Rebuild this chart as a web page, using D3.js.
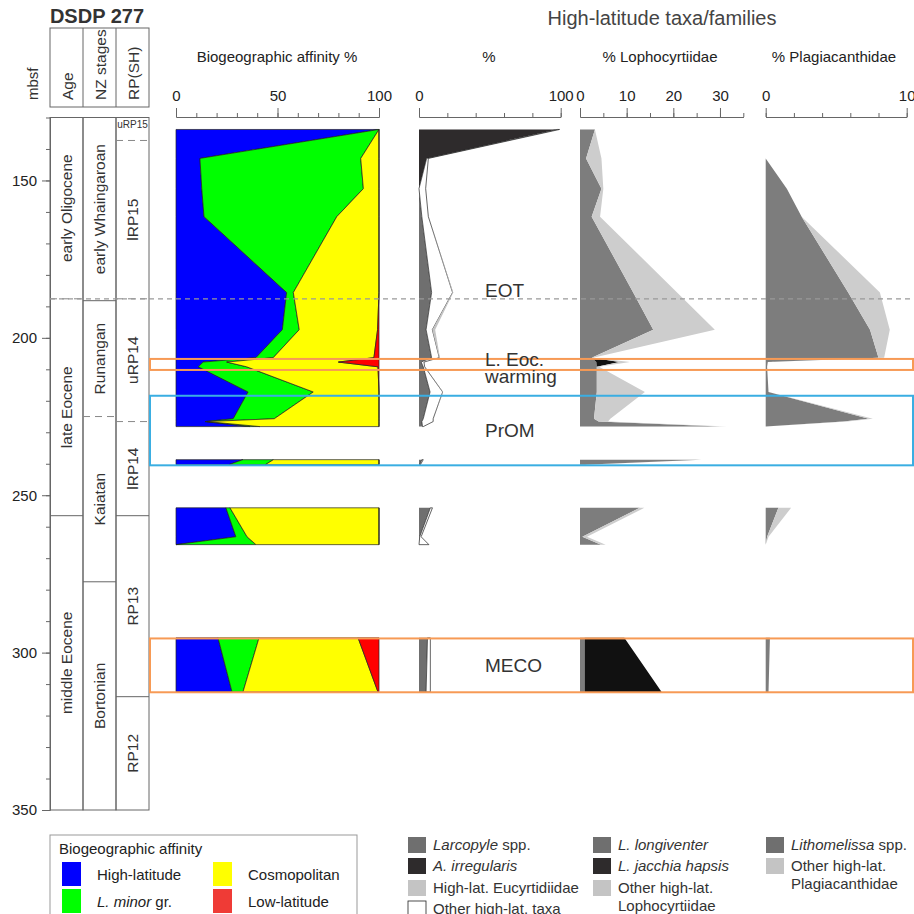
<!DOCTYPE html>
<html><head><meta charset="utf-8">
<script src="https://cdn.jsdelivr.net/npm/d3@7"></script>
<style>
body{margin:0;background:#fff}
svg{font-family:"Liberation Sans",Arial,sans-serif}
</style></head><body>
<svg id="chart" width="914" height="914"></svg>
<script>
// sample depths (mbsf); null marks a gap between cored intervals
const depths = [133.8, 143.0, 152.6, 161.5, 185.6, 197.4, 206.3, 207.7, 209.2, 217.2, 225.7, 226.6, 228.2,
  null, 238.7, 240.3, null, 254.0, 263.2, 265.7, null, 295.3, 312.5];

// biogeographic affinity %
const highLat = [100, 11.8, 12.7, 13.8, 54.5, 52.4, 39.4, 13.4, 11.0, 35.5, 28.2, 14.3, 36.5, null, 33, 26, null, 24.6, 29.5, 0, null, 20.7, 27.6];
const lMinor  = [0, 79.2, 79.6, 65.4, 3.3, 8.3, 8.5, 11.6, 23.8, 32.1, 20.2, 1.0, 4.9, null, 15, 18, null, 2.0, 5.5, 39.4, null, 20.2, 5.4];
const cosmo   = [0, 9.0, 7.7, 20.8, 42.2, 38.6, 49.6, 55.0, 64.7, 32.4, 51.6, 84.7, 58.6, null, 52, 56, null, 73.4, 65, 60.6, null, 48.8, 66.5];
const lowLat  = [0, 0, 0, 0, 0, 0.7, 2.5, 20.0, 0.5, 0, 0, 0, 0, null, 0, 0, null, 0, 0, 0, null, 10.3, 0.5];

// high-latitude taxa %
const larcopyle   = [0, 0, 0, 2, 8.9, 5, 8.9, 1, 3, 7.8, 3, 2, 2.5, null, 2, 0.5, null, 8, 0.5, 0, null, 6, 5];
const irregularis = [97.5, 5.4, 0, 0, 0, 0, 0, 0.5, 0, 0, 0, 0, 0, null, 0, 0, null, 0, 0, 0, null, 0, 0];
const otherTaxa   = [1.7, 1.2, 4.7, 4.6, 14.8, 4.4, 5.4, 2, 1, 8.9, 7, 8, 0.5, null, 1, 0.5, null, 1.5, 1, 7, null, 2, 3];
const eucyrt      = [0, 0, 0, 0, 0.5, 2, 0.5, 0, 0, 0.3, 0, 0, 0, null, 0, 0, null, 0, 0, 0, null, 0, 0];

// % Lophocyrtiidae
const longiventer = [3.2, 1.3, 4.6, 2.5, 11.4, 15.7, 2.5, 3.5, 3.6, 3.6, 3.0, 4.0, 30, null, 26, 1, null, 12.8, 0.5, 4.5, null, 1, 1];
const jacchia     = [0, 0, 0, 0, 0, 0, 0, 5.0, 0, 0, 0, 0, 0, null, 0, 0, null, 0, 0, 0, null, 8.5, 16.5];
const otherLopho  = [0, 3.3, 0.4, 1.8, 9.4, 13.2, 0.3, 2.2, 0.5, 10.3, 3.5, 2, 1.5, null, 0, 0.5, null, 1, 1, 1, null, 0, 0];

// % Plagiacanthidae
const lithomelissa = [0, 0, 1.5, 2.55, 5.85, 7.4, 8.0, 0.15, 0.1, 0.2, 7.3, 5.5, 0, null, 0, 0, null, 0.9, 0.1, 0, null, 0.3, 0.2];
const otherPlagia  = [0, 0, 0, 0, 2.25, 1.4, 0.4, 0, 0, 0, 0.3, 0.3, 0, null, 0, 0, null, 0.9, 0.1, 0, null, 0, 0];

// stratigraphic columns [label, top, bottom, lower boundary dashed?]
const ages = [["early Oligocene", 130, 187.6, true], ["late Eocene", 187.6, 256.5, false], ["middle Eocene", 256.5, 350, false]];
const nzStages = [["early Whaingaroan", 130, 188.2, false], ["Runangan", 188.2, 225.0, true], ["Kaiatan", 225.0, 277.5, false], ["Bortonian", 277.5, 350, false]];
const rpZones = [["uRP15", 130, 137.3, true], ["lRP15", 137.3, 187.6, true], ["uRP14", 187.6, 226.6, true], ["lRP14", 226.6, 256.5, false], ["RP13", 256.5, 314.0, false], ["RP12", 314.0, 350, false]];

// events
const eventNames = ["L. Eoc. warming", "PrOM", "MECO"];
const eventTop = [206.7, 218.4, 295.5];
const eventBottom = [210.2, 240.5, 312.6];
const eventColors = ["#f79a55", "#3aaee2", "#f79a55"];
const eotDepth = 187.6;

const svg = d3.select('#chart');
const y = d3.scaleLinear().domain([130, 350]).range([117.5, 810]);

// ---- title & depth axis
svg.append('text').attr('x', 97).attr('y', 23).attr('text-anchor', 'middle')
  .attr('font-size', 20).attr('font-weight', 'bold').attr('fill', '#333').text('DSDP 277');
svg.append('text').attr('transform', 'translate(38,100) rotate(-90)')
  .attr('font-size', 15).attr('fill', '#333').text('mbsf');

const yMinor = d3.axisLeft(y).tickValues(d3.range(130, 351, 10)).tickSize(4).tickFormat('').tickSizeOuter(0);
const yMajor = d3.axisLeft(y).tickValues(d3.range(150, 351, 50)).tickSize(8).tickPadding(5).tickSizeOuter(0);
svg.append('g').attr('transform', 'translate(50,0)').call(yMinor);
const yg = svg.append('g').attr('transform', 'translate(50,0)').call(yMajor);
svg.selectAll('.domain, .tick line').attr('stroke', '#666');
yg.selectAll('text').attr('font-size', 15).attr('fill', '#222').attr('font-family', 'Liberation Sans, Arial');

// ---- column headers
const colX = [50, 83, 116, 149];
const headers = ['Age', 'NZ stages', 'RP(SH)'];
svg.append('rect').attr('x', 50).attr('y', 28).attr('width', 99).attr('height', 79)
  .attr('fill', 'none').attr('stroke', '#666');
[83, 116].forEach(x => svg.append('line').attr('x1', x).attr('x2', x).attr('y1', 28).attr('y2', 107).attr('stroke', '#666'));
headers.forEach((h, i) => svg.append('text')
  .attr('transform', `translate(${(colX[i] + colX[i + 1]) / 2 + 6},100) rotate(-90)`)
  .attr('font-size', 15.5).attr('fill', '#333').text(h));

// ---- column bodies
function drawColumn(units, i) {
  const g = svg.append('g');
  const x0 = colX[i], x1 = colX[i + 1];
  g.append('rect').attr('x', x0).attr('y', y(130)).attr('width', x1 - x0).attr('height', y(350) - y(130))
    .attr('fill', 'none').attr('stroke', '#666');
  units.forEach(u => {
    if (u[2] < 350) {
      g.append('line').attr('x1', x0).attr('x2', x1).attr('y1', y(u[2])).attr('y2', y(u[2]))
        .attr('stroke', u[3] ? '#888' : '#666').attr('stroke-dasharray', u[3] ? '7,5' : null);
    }
    if (u[0] === 'uRP15') {
      g.append('text').attr('x', (x0 + x1) / 2).attr('y', y(u[1]) + 10).attr('text-anchor', 'middle')
        .attr('font-size', 10).attr('fill', '#333').text(u[0]);
    } else {
      g.append('text').attr('transform', `translate(${(x0 + x1) / 2},${(y(u[1]) + y(u[2])) / 2}) rotate(-90)`)
        .attr('text-anchor', 'middle').attr('dy', '0.35em').attr('font-size', 15.5).attr('fill', '#333').text(u[0]);
    }
  });
}
drawColumn(ages, 0);
drawColumn(nzStages, 1);
drawColumn(rpZones, 2);

// ---- panels
function topAxis(x, minorStep, majors, max, title, tx) {
  const g = svg.append('g').attr('transform', 'translate(0,117)');
  g.call(d3.axisTop(x).tickValues(d3.range(0, max + 0.01, minorStep)).tickSize(4).tickFormat('').tickSizeOuter(0));
  const m = svg.append('g').attr('transform', 'translate(0,117)')
    .call(d3.axisTop(x).tickValues(majors).tickSize(9).tickPadding(7).tickSizeOuter(0));
  m.selectAll('text').attr('font-size', 15).attr('fill', '#222').attr('font-family', 'Liberation Sans, Arial');
  svg.selectAll('.domain, .tick line').attr('stroke', '#666');
  svg.append('text').attr('x', tx).attr('y', 62).attr('text-anchor', 'middle')
    .attr('font-size', 15).attr('fill', '#222').text(title);
}

function drawPanel(x, keys, series, colors, strokes) {
  const rows = depths.map((d, i) => {
    const r = { depth: d };
    keys.forEach((k, j) => r[k] = series[j][i]);
    return r;
  });
  const stacked = d3.stack().keys(keys).value((r, k) => r[k] == null ? 0 : r[k])(rows);
  const area = d3.area()
    .defined(p => p.data.depth != null)
    .y(p => y(p.data.depth))
    .x0(p => x(p[0]))
    .x1(p => x(p[1]));
  svg.append('g').selectAll('path').data(stacked).join('path')
    .attr('d', area)
    .attr('fill', (s, i) => colors[i])
    .attr('stroke', (s, i) => strokes[i])
    .attr('stroke-width', 0.7)
    .attr('stroke-linejoin', 'miter');
}

const x1 = d3.scaleLinear().domain([0, 100]).range([176, 379]);
const x2 = d3.scaleLinear().domain([0, 100]).range([419, 560.7]);
const x3 = d3.scaleLinear().domain([0, 35]).range([580, 743.3]);
const x4 = d3.scaleLinear().domain([0, 10]).range([765.7, 906.7]);

drawPanel(x1, ['hl', 'lm', 'co', 'lo'], [highLat, lMinor, cosmo, lowLat],
  ['#0000ff', '#00ff00', '#ffff00', '#ff0000'], ['#222', '#222', '#222', '#222']);
drawPanel(x2, ['la', 'ir', 'ot', 'eu'], [larcopyle, irregularis, otherTaxa, eucyrt],
  ['#6f6f6f', '#2e2b2c', '#ffffff', '#c4c4c4'], ['none', 'none', '#222', 'none']);
drawPanel(x3, ['lg', 'jh', 'ol'], [longiventer, jacchia, otherLopho],
  ['#7d7d7d', '#111111', '#cdcdcd'], ['none', 'none', 'none']);
drawPanel(x4, ['li', 'op'], [lithomelissa, otherPlagia],
  ['#7d7d7d', '#cdcdcd'], ['none', 'none']);

topAxis(x1, 10, [0, 50, 100], 100, 'Biogeographic affinity %', 277);
topAxis(x2, 20, [0, 100], 100, '%', 489);
topAxis(x3, 5, [0, 10, 20, 30], 35, '% Lophocyrtiidae', 660);
topAxis(x4, 2, [0, 10], 10, '% Plagiacanthidae', 834);

svg.append('text').attr('x', 662).attr('y', 25).attr('text-anchor', 'middle')
  .attr('font-size', 20).attr('fill', '#444').text('High-latitude taxa/families');

// ---- EOT line and event boxes
svg.append('line').attr('x1', 50).attr('x2', 914).attr('y1', y(eotDepth)).attr('y2', y(eotDepth))
  .attr('stroke', '#999').attr('stroke-width', 1.2).attr('stroke-dasharray', '5,4');

eventNames.forEach((n, i) => {
  svg.append('rect').attr('x', 150).attr('y', y(eventTop[i])).attr('width', 763)
    .attr('height', y(eventBottom[i]) - y(eventTop[i]))
    .attr('fill', 'none').attr('stroke', eventColors[i]).attr('stroke-width', 2);
});

const lab = (lines, yy) => {
  const t = svg.append('text').attr('x', 485).attr('y', yy).attr('font-size', 19).attr('fill', '#333');
  lines.forEach((l, i) => t.append('tspan').attr('x', 485).attr('dy', i ? 17 : 0).text(l));
};
lab(['EOT'], y(eotDepth) - 2);
lab(['L. Eoc.', 'warming'], 366);
lab(['PrOM'], 437);
lab(['MECO'], 672);

// ---- legends
const affLabels = [["High-latitude"], ["L. minor", " gr."], ["Cosmopolitan"], ["Low-latitude"]];
const affColors = ['#0000ff', '#00ff00', '#ffff00', '#ef3b36'];
const lg = svg.append('g');
lg.append('rect').attr('x', 50).attr('y', 835).attr('width', 307).attr('height', 100)
  .attr('fill', 'none').attr('stroke', '#999');
lg.append('text').attr('x', 59).attr('y', 854).attr('font-size', 15).attr('fill', '#222').text('Biogeographic affinity');
affLabels.forEach((l, i) => {
  const cx = i < 2 ? 62 : 213, cy = i % 2 === 0 ? 862 : 889;
  lg.append('rect').attr('x', cx).attr('y', cy).attr('width', 19).attr('height', 24).attr('fill', affColors[i]);
  const t = lg.append('text').attr('x', cx + 35).attr('y', cy + 18).attr('font-size', 15).attr('fill', '#222');
  t.append('tspan').attr('font-style', i === 1 ? 'italic' : null).text(l[0]);
  if (l[1]) t.append('tspan').text(l[1]);
});

// taxa legend: [x, y, fill, stroke, lines of [text, italic] pieces]
const taxaLegend = [
  [408, 837, '#6f6f6f', 'none', [[["Larcopyle", true], [" spp.", false]]]],
  [408, 858, '#2e2b2c', 'none', [[["A. irregularis", true]]]],
  [408, 880, '#c4c4c4', 'none', [[["High-lat. Eucyrtidiidae", false]]]],
  [408, 901, '#ffffff', '#222', [[["Other high-lat. taxa", false]]]],
  [593, 837, '#6f6f6f', 'none', [[["L. longiventer", true]]]],
  [593, 858, '#2e2b2c', 'none', [[["L. jacchia hapsis", true]]]],
  [593, 880, '#c4c4c4', 'none', [[["Other high-lat.", false]], [["Lophocyrtiidae", false]]]],
  [766, 837, '#6f6f6f', 'none', [[["Lithomelissa", true], [" spp.", false]]]],
  [766, 858, '#c4c4c4', 'none', [[["Other high-lat.", false]], [["Plagiacanthidae", false]]]]
];
taxaLegend.forEach(e => {
  svg.append('rect').attr('x', e[0]).attr('y', e[1]).attr('width', 18).attr('height', 16)
    .attr('fill', e[2]).attr('stroke', e[3]).attr('stroke-width', 0.8);
  e[4].forEach((line, li) => {
    const t = svg.append('text').attr('x', e[0] + 25).attr('y', e[1] + 13 + li * 18)
      .attr('font-size', 15).attr('fill', '#333');
    line.forEach(p => t.append('tspan').attr('font-style', p[1] ? 'italic' : null).text(p[0]));
  });
});
</script>
</body></html>
